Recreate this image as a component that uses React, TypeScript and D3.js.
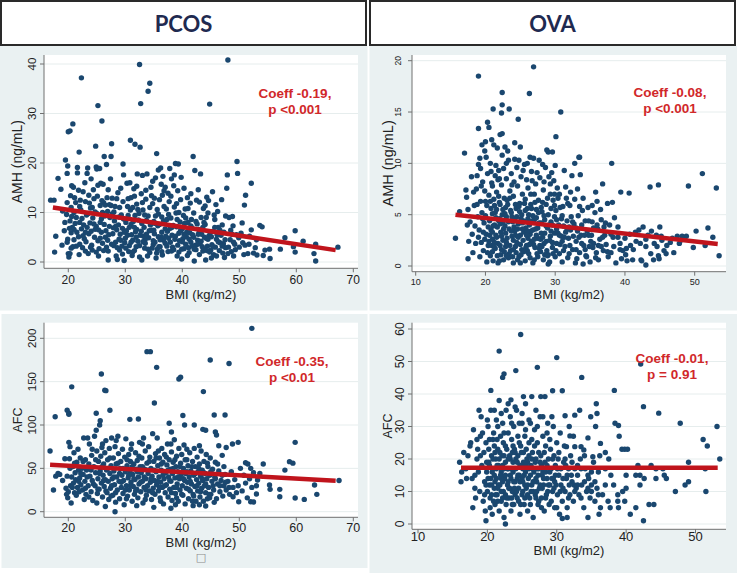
import React from 'react';
import * as d3 from 'd3';

type Pt = [number, number];

// ---------- DATA ----------
const panelTitles = ['PCOS', 'OVA'];
const bmiTicksPcos = [20, 30, 40, 50, 60, 70];
const bmiTicksOva = [10, 20, 30, 40, 50];
const amhTicksPcos = [0, 10, 20, 30, 40];
const amhTicksOva = [0, 5, 10, 15, 20];
const afcTicksPcos = [0, 50, 100, 150, 200];
const afcTicksOva = [0, 10, 20, 30, 40, 50, 60];

const coeffPcosAmh = ['Coeff -0.19,', 'p <0.001'];
const coeffOvaAmh = ['Coeff -0.08,', 'p <0.001'];
const coeffPcosAfc = ['Coeff -0.35,', 'p <0.01'];
const coeffOvaAfc = ['Coeff -0.01,', 'p = 0.91'];

const pcosAmhFit: Pt[] = [[17.3, 11.0], [66.9, 2.4]];
const ovaAmhFit: Pt[] = [[15.7, 5.0], [53.3, 2.15]];
const pcosAfcFit: Pt[] = [[16.8, 54.2], [66.9, 35.6]];
const ovaAfcFit: Pt[] = [[16.2, 17.3], [53.2, 17.3]];

const pcosAmh: Pt[] = [
[16.9,12.5],[17.5,12.5],[17.6,2.0],[17.8,5.2],[18.2,16.9],[18.7,14.7],[19.3,6.3],[19.5,20.6],[19.8,17.9],[19.9,19.4],[19.8,12.0],[19.7,9.6],[19.9,4.6],[19.8,4.0],[20.0,1.7],[20.1,1.0],[20.3,1.7],[20.0,26.3],[20.3,26.5],[20.8,27.9],[20.4,13.4],[20.6,15.4],[20.9,15.1],[20.5,11.0],[20.3,8.3],[20.7,7.0],[20.5,5.9],[21.0,4.5],[20.8,3.1],[21.1,13.0],[21.3,12.0],[21.4,9.0],[21.2,7.8],[21.5,6.0],[21.6,19.1],[21.6,18.0],[21.9,22.2],[22.3,37.2],[21.8,14.5],[22.0,11.2],[22.2,10.5],[22.4,8.8],[22.3,6.7],[22.0,3.6],[22.5,2.9],[22.8,4.7],[22.9,16.0],[23.0,12.2],[23.2,9.5],[23.3,7.0],[23.6,5.7],[23.5,1.7],[23.4,19.0],[23.3,17.9],[23.7,11.9],[23.9,10.9],[24.0,6.2],[24.1,3.4],[24.4,14.6],[24.3,8.9],[24.6,5.0],[24.5,12.8],[24.8,23.4],[24.9,19.2],[25.0,18.8],[25.2,31.6],[25.1,13.3],[25.0,9.8],[24.9,7.2],[25.2,4.3],[25.3,1.2],[25.4,2.7],[25.5,18.9],[25.7,15.9],[25.9,28.5],[25.6,11.4],[25.8,8.7],[25.8,6.0],[26.1,15.7],[26.2,12.0],[26.0,3.8],[26.3,21.3],[26.4,9.3],[26.5,5.0],[26.7,19.7],[26.8,13.0],[26.9,10.2],[27.0,0.4],[27.0,2.2],[27.2,7.2],[27.4,16.8],[27.5,21.3],[27.6,23.9],[27.7,12.9],[27.7,9.7],[27.8,5.7],[28.0,3.3],[28.1,8.3],[28.2,11.2],[28.4,1.2],[28.5,6.5],[28.6,0.5],[28.7,14.0],[28.9,4.6],[29.0,2.4],[29.3,9.5],[29.5,6.8],[29.6,19.8],[29.7,17.6],[29.6,12.2],[29.8,0.3],[29.9,3.9],[30.1,8.0],[30.3,15.9],[30.4,5.4],[30.6,2.1],[30.9,24.6],[30.8,16.0],[30.9,10.5],[31.0,7.6],[31.2,1.3],[31.3,4.4],[31.5,14.8],[31.7,23.8],[31.6,13.3],[31.7,9.4],[31.8,6.1],[31.9,3.1],[32.0,11.7],[32.1,17.8],[32.3,8.5],[32.5,1.0],[32.6,23.2],[32.5,39.9],[32.7,32.0],[32.6,5.4],[32.8,13.8],[32.9,0.4],[33.0,17.5],[33.1,10.5],[33.3,7.0],[33.4,2.8],[33.5,4.6],[33.6,12.7],[33.8,17.8],[34.0,34.5],[34.3,36.1],[34.0,9.3],[34.2,6.3],[34.3,1.9],[34.5,15.1],[34.6,13.4],[34.8,11.8],[34.9,3.5],[35.0,8.2],[35.1,5.7],[35.3,17.0],[35.5,21.9],[35.4,0.8],[35.6,10.6],[35.7,7.3],[35.8,18.6],[35.9,3.1],[36.0,12.6],[36.2,19.0],[36.3,5.0],[36.4,9.1],[36.5,1.4],[36.6,17.3],[36.8,14.4],[36.9,7.9],[37.0,3.8],[37.2,10.7],[37.4,6.2],[37.5,2.1],[37.7,12.2],[37.8,18.9],[38.0,8.9],[38.1,16.8],[38.2,5.4],[38.3,3.0],[38.5,15.4],[38.6,11.1],[38.8,19.9],[39.0,7.1],[39.1,1.2],[39.2,14.4],[39.3,19.8],[39.4,10.0],[39.5,4.3],[39.7,12.6],[39.8,17.1],[39.9,0.6],[40.0,6.7],[40.2,9.4],[40.3,2.7],[40.5,10.7],[40.7,5.1],[40.9,13.0],[41.0,8.0],[41.2,1.9],[41.4,11.9],[41.5,4.0],[41.7,6.9],[41.9,21.3],[42.0,9.9],[42.2,18.5],[42.1,0.2],[42.3,3.4],[42.5,12.5],[42.6,7.7],[42.8,5.6],[43.0,1.5],[43.2,17.8],[43.3,9.0],[43.5,3.1],[43.7,10.8],[43.9,5.0],[44.0,7.6],[44.1,0.4],[44.3,2.3],[44.5,9.9],[44.6,12.4],[44.8,31.9],[44.9,6.0],[45.1,0.8],[45.3,14.2],[45.2,3.5],[45.5,1.5],[45.7,8.6],[45.9,11.6],[46.0,4.6],[46.3,7.0],[46.5,2.3],[46.8,5.4],[47.0,7.5],[47.2,3.7],[47.4,0.9],[47.6,2.9],[47.8,14.9],[47.9,17.6],[48.0,40.8],[48.2,9.0],[48.4,4.5],[48.6,2.1],[48.8,9.2],[49.0,1.2],[49.2,3.6],[49.6,20.3],[49.7,17.9],[49.5,5.5],[49.9,4.9],[50.3,5.8],[50.6,3.9],[50.9,11.5],[51.1,13.5],[51.0,3.4],[51.5,1.7],[51.7,3.6],[52.1,15.9],[52.1,6.5],[52.5,1.8],[53.1,1.4],[53.6,7.4],[54.0,7.1],[54.2,1.3],[54.5,2.4],[55.3,2.6],[55.4,0.7],[57.2,2.6],[58.0,4.9],[59.5,3.1],[59.8,6.3],[59.8,2.0],[61.2,4.2],[63.1,1.7],[63.4,3.6],[63.4,0.2],[67.3,3.0],
[22.6,5.3],[23.1,4.1],[23.8,7.9],[24.2,2.4],[24.7,6.6],[25.6,4.8],[26.3,7.6],[26.7,3.0],[27.1,5.5],[27.3,9.0],[27.9,6.9],[28.3,4.0],[28.8,7.5],[29.1,5.6],[29.4,3.2],[29.7,8.7],[30.0,4.8],[30.2,6.3],[30.5,9.4],[30.7,3.3],[31.1,5.5],[31.4,8.2],[31.6,2.3],[32.0,6.6],[32.2,4.2],[32.4,9.8],[32.9,7.8],[33.2,5.2],[33.5,3.8],[33.7,8.4],[33.9,1.2],[34.1,4.9],[34.4,7.5],[34.7,2.8],[35.0,6.4],[35.2,4.0],[35.3,9.3],[35.6,2.6],[35.8,5.1],[36.0,7.6],[36.1,3.1],[36.4,6.0],[36.7,4.4],[36.8,11.2],[37.1,5.2],[37.3,8.6],[37.6,4.8],[37.9,6.8],[38.1,2.2],[38.4,7.4],[38.7,4.6],[38.9,9.9],[39.2,3.4],[39.4,5.8],[39.6,8.1],[39.9,2.6],[40.1,4.7],[40.4,7.8],[40.6,3.6],[40.8,6.0],[41.1,2.9],[41.3,5.9],[41.6,8.6],[41.8,3.2],[42.0,5.0],[42.4,2.5],[42.7,4.4],[42.9,6.6],[43.1,3.9],[43.4,5.6],[43.6,2.2],[43.8,8.0],[44.2,4.8],[44.4,3.2],[44.7,5.3],[45.0,2.4],[45.4,6.2],[45.8,3.0],[46.1,5.5],[46.6,3.9],[47.1,1.8],[47.3,6.0],[48.1,3.0],[48.7,5.6],[49.3,2.5],[50.0,3.0],[45.6,9.5],[46.2,10.2],[44.0,11.3],[43.0,12.1],[41.0,10.8],[38.0,13.3],[37.0,15.1],[35.1,12.9],[33.6,14.5],[31.0,13.0],[29.0,11.0],[27.5,11.4],[26.0,10.0],[23.6,13.5],[22.0,8.0],[21.0,10.0],[20.2,6.8],[19.0,10.3],
[20.6,9.2],[21.0,6.6],[21.4,3.2],[21.8,5.1],[22.1,12.5],[22.7,7.5],[23.0,2.2],[23.5,9.8],[23.9,3.0],[24.2,11.0],[24.5,7.7],[24.9,2.0],[25.3,6.5],[25.6,8.0],[25.9,12.4],[26.2,2.3],[26.6,6.3],[26.9,4.4],[27.2,11.6],[27.6,3.6],[28.0,10.1],[28.3,7.2],[28.6,2.9],[28.9,9.1],[29.2,4.4],[29.5,1.6],[29.8,6.0],[30.1,2.8],[30.4,11.2],[30.7,7.0],[31.0,4.0],[31.3,2.0],[31.6,7.0],[31.9,5.0],[32.2,10.6],[32.5,3.3],[32.8,6.2],[33.1,4.1],[33.4,9.5],[33.7,5.6],[34.0,2.6],[34.3,11.0],[34.6,6.4],[34.9,4.3],[35.2,7.8],[35.5,1.8],[35.8,9.7],[36.1,4.5],[36.4,2.1],[36.7,8.3],[37.0,6.7],[37.3,3.2],[37.6,9.6],[37.9,4.0],[38.2,7.0],[38.5,2.5],[38.8,5.2],[39.1,8.6],[39.4,2.0],[39.7,6.3],[40.0,4.1],[40.3,5.6],[40.6,8.9],[40.9,1.3],[41.2,4.6],[41.5,7.3],[41.8,5.5],[42.1,2.6],[42.4,8.2],[42.7,3.6],[43.0,6.2],[43.3,4.2],[43.6,7.0],[43.9,2.6],[44.2,9.0],[44.5,4.6],[44.8,2.0],[45.1,5.1],[45.4,3.1],[45.7,7.0],[46.0,1.2],[46.3,4.1],[46.6,6.4],[47.0,3.2],[47.5,4.5],[48.0,1.7],[48.5,6.4],[49.0,4.0],[34.8,16.3],[36.3,15.7],[38.6,17.6],[40.3,14.9],[42.8,14.6],[30.5,12.8],[27.0,14.6],[25.2,15.5],[24.0,16.8],[22.6,14.2],[39.0,11.8],[36.5,13.5],[33.0,12.0],[31.3,11.0],[28.5,12.8],[26.5,11.5],[24.7,10.1],[23.0,6.0],[21.9,1.5],[20.5,2.8],[19.4,8.0],[18.9,3.4],[29.2,14.9],[32.0,15.3],[37.5,13.9],[41.5,13.8],[44.3,13.1],[46.9,12.6],[47.6,9.3],[48.9,7.3],[50.5,7.9],[51.8,5.2],[53.0,4.5],[52.8,2.9],[50.8,1.5]
];

const ovaAmh: Pt[] = [
[15.7,2.7],[16.3,5.3],[17.0,11.0],[17.2,7.4],[17.4,4.0],[17.5,0.7],[17.6,2.4],[19.0,18.5],[26.9,19.4],[22.4,16.9],[26.3,16.8],[30.8,15.0],[22.4,15.7],[21.1,15.3],[23.4,15.3],[22.3,14.9],[24.7,14.3],[19.0,13.4],[20.3,14.0],[30.1,12.6],[29.0,11.1],[29.6,11.1],[33.4,10.6],[32.8,10.0],[36.8,8.0],[38.1,10.0],[38.2,6.2],[39.4,7.2],[40.6,7.1],[43.6,7.7],[44.8,7.9],[49.1,7.8],[51.1,9.0],[53.1,7.6],[53.5,1.0],[52.6,2.8],[51.9,3.7],[51.5,2.0],[50.2,3.4],[49.8,1.8],[48.8,2.9],[48.2,2.9],[47.0,1.3],[44.9,0.7],[44.1,0.6],[43.0,0.1],[42.3,0.6],[41.1,0.6],[40.1,1.1],[39.3,1.6],
[17.3,6.7],[17.5,5.5],[17.8,4.3],[18.0,8.7],[18.1,3.1],[18.2,1.3],[18.4,5.9],[18.6,2.2],[18.7,7.5],[18.8,8.8],[18.9,4.8],[19.0,9.9],[19.1,3.5],[19.2,0.9],[19.3,6.3],[19.3,9.5],[19.4,2.3],[19.5,5.2],[19.6,8.2],[19.7,1.5],[19.8,4.2],[19.9,11.2],[19.9,7.3],[20.0,12.1],[20.1,3.1],[20.2,0.4],[20.2,5.9],[20.3,9.0],[20.4,2.0],[20.5,13.5],[20.5,6.9],[20.6,4.4],[20.7,10.0],[20.7,1.0],[20.8,3.5],[20.9,8.1],[20.9,12.3],[21.0,5.1],[21.0,2.6],[21.1,0.5],[21.2,6.5],[21.2,11.8],[21.3,4.0],[21.4,8.8],[21.4,1.7],[21.5,3.0],[21.6,7.2],[21.6,5.5],[21.7,11.5],[21.8,2.2],[21.8,0.3],[21.9,9.3],[22.0,4.6],[22.0,6.2],[22.1,12.8],[22.2,3.3],[22.2,1.1],[22.3,7.9],[22.4,5.0],[22.4,12.9],[22.5,2.5],[22.6,9.5],[22.6,0.6],[22.7,6.6],[22.8,11.6],[22.8,3.9],[22.9,1.9],[23.0,8.5],[23.0,4.8],[23.1,2.7],[23.2,6.0],[23.3,10.3],[23.3,0.8],[23.4,3.6],[23.5,7.3],[23.6,5.4],[23.6,1.5],[23.7,9.0],[23.8,2.9],[23.9,4.3],[24.0,6.8],[24.0,0.3],[24.1,8.2],[24.2,3.4],[24.3,1.9],[24.4,5.6],[24.5,9.6],[24.5,2.3],[24.6,7.8],[24.7,4.1],[24.8,10.3],[24.8,0.9],[24.9,6.1],[25.0,3.0],[25.1,8.7],[25.2,1.6],[25.2,5.0],[25.3,7.0],[25.4,2.5],[25.5,4.4],[25.6,9.9],[25.7,0.5],[25.7,6.5],[25.8,3.7],[25.9,2.0],[26.0,5.6],[26.0,10.0],[26.1,7.6],[26.2,1.2],[26.3,4.0],[26.4,10.6],[26.4,3.1],[26.5,6.0],[26.6,2.4],[26.7,8.3],[26.8,0.3],[26.8,4.9],[26.9,10.5],[27.0,7.0],[27.1,1.8],[27.2,3.6],[27.3,5.5],[27.4,9.1],[27.5,2.7],[27.5,0.9],[27.6,6.4],[27.7,4.2],[27.8,8.6],[27.9,1.4],[28.0,3.2],[28.1,5.3],[28.2,9.9],[28.3,0.6],[28.3,7.4],[28.4,2.2],[28.5,4.5],[28.6,9.6],[28.7,6.0],[28.8,1.5],[28.9,3.7],[29.0,5.0],[29.1,8.7],[29.2,0.4],[29.3,2.9],[29.3,7.0],[29.4,4.3],[29.5,9.1],[29.6,1.8],[29.7,6.4],[29.8,8.3],[29.9,3.2],[30.0,0.9],[30.1,5.4],[30.2,2.2],[30.3,7.6],[30.5,4.0],[30.6,1.2],[30.7,5.7],[30.9,2.9],[31.0,0.4],[31.1,5.8],[31.2,3.9],[31.4,1.9],[31.5,7.7],[31.7,4.4],[31.8,0.8],[31.9,2.7],[32.1,5.9],[32.2,3.5],[32.4,8.8],[32.5,1.6],[32.7,4.1],[32.8,6.5],[33.0,2.4],[33.1,0.7],[33.2,7.5],[33.3,4.9],[33.5,1.3],[33.6,8.9],[33.7,3.0],[33.9,5.4],[34.0,0.2],[34.1,2.0],[34.3,4.4],[34.4,1.0],[34.6,3.4],[34.7,5.7],[34.9,1.9],[35.0,0.4],[35.2,3.0],[35.3,4.3],[35.5,2.2],[35.7,5.2],[35.8,7.2],[35.9,1.3],[36.1,3.6],[36.2,0.6],[36.4,2.6],[36.6,4.5],[36.9,1.5],[37.1,3.0],[37.3,2.1],[37.6,0.9],[37.8,4.0],[38.0,1.3],[38.3,2.8],[38.5,4.7],[38.7,0.3],[39.0,3.8],[39.3,2.2],[39.7,1.5],[40.0,2.7],[40.3,0.5],[40.7,3.1],[41.2,1.6],[41.6,2.4],[42.0,3.5],[42.4,0.5],[42.6,3.8],[43.0,1.9],[43.3,3.0],[43.7,1.2],[44.2,2.2],[44.5,3.0],[44.8,1.0],[45.0,3.8],[45.3,2.5],[45.6,1.5],[46.0,2.0],[46.5,2.3],[47.5,2.9],[48.0,2.5],
[20.4,3.8],[20.9,2.0],[21.3,5.9],[21.7,3.8],[22.1,2.0],[22.5,4.2],[22.9,5.7],[23.4,1.2],[23.8,4.8],[24.3,3.0],[24.6,0.6],[25.1,4.6],[25.5,3.3],[26.0,1.5],[26.5,3.4],[27.0,4.5],[27.4,1.2],[27.9,2.6],[28.5,3.2],[29.0,1.1],[29.6,4.0],[30.4,3.2],[21.0,7.8],[22.0,8.5],[23.0,10.0],[24.2,10.4],[25.0,11.6],[21.5,9.8],[20.0,6.3],[19.6,4.6],[18.8,6.0],[19.2,10.5],[26.6,9.2],[27.7,10.3],[28.8,11.3],[30.0,9.8],[31.3,9.3],[33.5,10.6],
[19.9,2.6],[20.3,1.3],[20.6,3.0],[20.8,5.6],[21.1,3.9],[21.3,2.3],[21.5,4.7],[21.7,1.0],[21.9,6.8],[22.1,4.1],[22.3,2.9],[22.5,5.5],[22.7,1.4],[22.9,3.2],[23.1,6.4],[23.2,4.4],[23.5,2.0],[23.7,5.2],[23.9,0.9],[24.1,3.8],[24.3,6.0],[24.5,4.8],[24.7,2.8],[24.9,5.3],[25.1,1.1],[25.3,3.6],[25.6,6.1],[25.8,1.8],[26.0,3.4],[26.2,5.0],[26.4,0.8],[26.7,4.4],[26.9,2.1],[27.1,6.2],[27.3,3.0],[27.6,5.2],[27.8,2.0],[28.0,4.2],[28.2,6.2],[28.5,1.1],[28.7,3.9],[28.9,6.6],[29.2,2.5],[29.4,5.6],[29.7,1.2],[29.9,4.8],[30.2,3.6],[30.4,6.6],[30.7,2.1],[30.9,4.6],[31.2,1.5],[31.5,3.3],[31.8,6.1],[32.0,1.2],[32.3,4.8],[32.6,2.9],[32.9,0.3],[33.2,3.4],[33.5,5.8],[33.8,2.2],[34.2,3.0],[34.5,0.9],[34.8,4.4],[35.1,2.4],[35.5,3.7],[35.8,0.8],[36.2,2.0],[36.5,5.5],[36.8,2.8],[37.2,4.2],[37.5,1.4],[38.0,3.1],[38.4,1.9],[39.0,2.8],[39.5,0.7],[40.2,1.7],[40.8,2.0],[41.5,3.3],[42.2,2.2],[43.0,2.6],[43.8,3.4],[44.6,1.9],[45.2,2.9],[45.9,1.2],[46.8,2.7],[47.8,2.2],[18.5,3.9],[18.3,7.2],[19.0,2.8],[19.4,7.8],[19.5,11.8],[20.1,10.6],[20.8,9.2],[21.8,8.4],[22.4,10.8],[23.2,11.2],[23.8,7.9],[24.2,12.0],[25.4,9.3],[25.9,8.4],[26.5,7.0],[27.2,8.0],[28.4,8.2],[29.3,8.0],[29.9,7.0],[30.6,7.0],[31.6,6.6],[32.2,7.2],[34.0,6.6],[35.3,5.9],[36.0,6.3],[37.5,6.1],[21.0,1.4],[22.0,0.5],[23.0,1.0],[24.0,1.6],[25.0,0.3],[26.1,2.7],[27.0,0.6],[28.1,1.9],[29.0,0.2],[30.1,1.5],[31.0,2.4],[32.0,3.8],[33.0,1.6],
[19.7,3.3],[20.0,4.9],[20.5,2.4],[20.7,6.3],[21.0,3.3],[21.2,1.9],[21.4,5.2],[21.6,2.8],[21.9,4.4],[22.1,6.0],[22.3,1.6],[22.6,3.6],[22.8,5.1],[23.0,2.3],[23.3,4.3],[23.5,6.6],[23.7,3.4],[24.0,2.5],[24.2,4.6],[24.4,1.3],[24.6,3.6],[24.8,5.8],[25.0,2.1],[25.3,4.2],[25.5,1.4],[25.7,5.4],[25.9,3.0],[26.1,4.6],[26.3,2.1],[26.6,5.6],[26.8,3.5],[27.0,2.6],[27.3,4.7],[27.5,3.7],[27.7,1.7],[28.0,5.7],[28.2,2.8],[28.4,4.9],[28.7,2.4],[28.9,1.0],[29.1,4.0],[29.4,3.4],[29.6,2.3],[29.9,5.9],[30.2,4.5],[30.6,3.0],[31.0,4.9],[31.3,2.8],[31.7,3.6],[32.1,2.0],[32.5,4.3],[33.0,3.7],[33.4,2.8],[33.8,4.0],[34.3,1.6],[34.8,3.0],[35.4,1.8],[36.0,4.0],[36.6,1.9],[37.0,3.8]
];

const pcosAfc: Pt[] = [
[52.2,211.5],[33.8,184.6],[34.4,184.6],[44.9,175],[48.2,171],[35.5,166.5],[39.4,153],[39.7,155],[25.8,158.8],[20.6,144],[26.4,140],[26.6,139.6],[43.7,138.5],[35.1,125.4],[27.3,117],[19.8,117],[20.1,113.5],[20.1,112.3],[17.7,109.6],[45.6,111.5],[40.1,111],[30.8,106.5],[32.3,107],[24.9,113.5],[25.6,105],[40.4,100],[42.1,100],[37.7,102],[38.1,92],[43.6,95],[44.1,94],[45.8,92],[46.0,88.5],[47.3,52],[47.5,111.5],[59.8,80],[49.8,80],[48.8,78],[46.4,76],[47.7,74],[16.8,70],[58.0,48],[58.8,57.7],[59.4,56],[54.2,55],[51.1,56.5],[63.2,30.8],[63.6,20],[61.4,14.2],[59.8,15.8],[57.1,25.8],[57.1,17.3],[55.3,30.8],[55.4,25.8],[67.5,36],[52.0,11.5],[52.5,11.2],[49.9,11.5],[53.0,20.4],[53.6,44],[53.2,36.5],[28.2,0],[26.5,6],[38.0,4],[41.9,7],[44.1,6.5],[45.6,10.8],[48.9,17.3],
[17.4,25],[17.8,41],[18.2,44],[18.5,43],[19.0,36],[19.4,61],[19.6,27],[19.7,20],[19.8,41],[19.9,16],[20.0,23],[20.1,80],[20.2,61],[20.3,75],[20.4,30],[20.5,10],[20.6,40],[20.8,52],[20.9,33],[21.0,68],[21.1,22],[21.2,45],[21.3,37],[21.5,57],[21.6,28],[21.7,72],[21.8,48],[21.9,23],[22.0,39],[22.1,62],[22.2,31],[22.4,50],[22.5,25],[22.6,43],[22.7,85],[22.9,35],[23.0,60],[23.1,20],[23.2,48],[23.4,85],[23.5,30],[23.6,55],[23.7,78],[23.8,41],[24.0,23],[24.1,65],[24.2,36],[24.3,13],[24.5,52],[24.6,87],[24.7,30],[24.8,45],[24.9,94],[25.0,70],[25.1,21],[25.2,38],[25.3,58],[25.4,26],[25.5,100],[25.6,47],[25.7,64],[25.8,33],[25.9,74],[26.0,17],[26.1,42],[26.2,55],[26.3,29],[26.4,68],[26.5,37],[26.6,82],[26.7,48],[26.8,22],[26.9,60],[27.0,35],[27.1,14],[27.2,73],[27.3,44],[27.4,27],[27.5,53],[27.6,85],[27.7,38],[27.8,19],[27.9,62],[28.0,47],[28.1,31],[28.2,75],[28.3,11],[28.4,55],[28.5,40],[28.6,25],[28.7,87],[28.8,67],[28.9,35],[29.0,15],[29.1,50],[29.2,58],[29.3,28],[29.4,42],[29.5,72],[29.6,21],[29.7,36],[29.8,8],[29.9,63],[30.0,46],[30.1,84],[30.2,30],[30.3,53],[30.4,18],[30.5,39],[30.6,66],[30.7,25],[30.8,47],[30.9,58],[31.0,34],[31.1,78],[31.2,12],[31.3,43],[31.4,29],[31.5,55],[31.6,20],[31.7,37],[31.8,68],[31.9,49],[32.0,26],[32.1,59],[32.2,16],[32.3,40],[32.4,32],[32.5,80],[32.6,52],[32.7,23],[32.8,45],[32.9,62],[33.0,35],[33.1,10],[33.2,85],[33.3,28],[33.4,49],[33.5,70],[33.6,38],[33.7,19],[33.8,56],[33.9,30],[34.0,44],[34.1,75],[34.2,24],[34.3,63],[34.4,34],[34.5,50],[34.6,14],[34.7,41],[34.8,90],[34.9,27],[35.0,58],[35.1,36],[35.2,20],[35.3,67],[35.4,46],[35.5,31],[35.6,85],[35.7,53],[35.8,24],[35.9,40],[36.0,62],[36.1,16],[36.2,34],[36.3,48],[36.4,73],[36.5,28],[36.6,57],[36.7,9],[36.8,38],[36.9,66],[37.0,22],[37.1,45],[37.2,31],[37.3,54],[37.4,78],[37.5,17],[37.6,40],[37.7,60],[37.8,26],[37.9,49],[38.0,35],[38.1,69],[38.2,13],[38.3,44],[38.4,57],[38.5,28],[38.6,83],[38.7,39],[38.8,21],[38.9,52],[39.0,64],[39.1,32],[39.2,46],[39.3,12],[39.4,73],[39.5,38],[39.6,25],[39.7,56],[39.8,43],[39.9,66],[40.0,30],[40.1,19],[40.2,50],[40.3,77],[40.4,36],[40.5,9],[40.6,44],[40.7,27],[40.8,60],[40.9,34],[41.0,53],[41.1,15],[41.2,40],[41.3,68],[41.4,24],[41.5,47],[41.6,32],[41.8,58],[41.9,20],[42.0,42],[42.1,73],[42.2,29],[42.3,52],[42.4,12],[42.5,37],[42.6,63],[42.7,24],[42.8,46],[42.9,33],[43.0,55],[43.1,17],[43.2,41],[43.3,70],[43.4,27],[43.5,48],[43.6,36],[43.7,12],[43.8,58],[43.9,30],[44.0,44],[44.1,22],[44.2,66],[44.3,38],[44.4,15],[44.5,52],[44.6,28],[44.8,42],[44.9,62],[45.0,20],[45.2,35],[45.3,49],[45.5,25],[45.7,40],[45.8,57],[46.0,15],[46.2,32],[46.4,47],[46.6,23],[46.8,36],[47.0,65],[47.1,18],[47.3,30],[47.5,43],[47.7,25],[48.0,35],[48.3,20],[48.6,46],[48.9,28],[49.2,37],[49.5,22],[49.8,30],[50.2,50],[50.5,24],[50.8,42],[51.1,33],[51.4,16],[51.8,38],[52.2,28],[52.5,45],[53.0,30],[52.0,50],[51.5,55],
[20.3,50],[20.7,28],[21.1,56],[21.4,19],[21.8,35],[22.2,44],[22.6,58],[23.0,27],[23.3,40],[23.6,17],[24.0,48],[24.4,32],[24.8,60],[25.2,26],[25.5,44],[25.9,52],[26.2,36],[26.6,24],[27.0,50],[27.3,62],[27.6,30],[28.0,40],[28.3,22],[28.7,56],[29.0,44],[29.3,34],[29.6,50],[30.0,25],[30.3,60],[30.6,42],[30.9,30],[31.2,52],[31.5,38],[31.8,24],[32.1,46],[32.4,64],[32.7,34],[33.0,52],[33.3,40],[33.6,25],[33.9,48],[34.2,58],[34.5,38],[34.8,22],[35.1,48],[35.4,62],[35.7,35],[36.0,28],[36.3,55],[36.6,42],[36.9,30],[37.2,63],[37.5,48],[37.8,36],[38.1,22],[38.4,50],[38.7,60],[39.0,28],[39.3,40],[39.6,52],[39.9,20],[40.2,38],[40.5,60],[40.8,46],[41.1,26],[41.4,35],[41.7,52],[42.0,18],[42.3,44],[42.6,30],[42.9,50],[43.2,23],[43.5,38],[43.8,45],[44.1,32],[44.4,56],[44.7,20],[45.0,46],[45.4,30],[45.8,38],[46.2,55],[46.6,30],[47.0,42],[47.6,34],[48.2,28],[24.2,72],[26.0,78],[28.4,82],[31.0,72],[33.0,78],[35.8,70],[38.0,78],[40.8,72],[43.0,76],[30.2,15],[33.5,14],[36.2,12],[39.0,16],[41.8,12],[44.8,16],[27.5,18],[22.8,14],[25.0,10],[35.0,5],[43.0,8],[38.8,8],[32.0,7]
];

const ovaAfc: Pt[] = [
[24.8,58.3],[21.7,53.2],[30.0,51.2],[27.2,48.2],[42.1,49.2],[24.1,47.2],[22.4,46.2],[22.2,45.1],[33.6,45.1],[38.3,41.1],[20.5,41.1],[29.4,41],[30.8,41],[27.7,39.2],[28.3,39.2],[26.4,39.2],[25.2,39.2],[23.4,38.2],[42.5,36.1],[44.7,34.1],[47.8,31],[53.1,30],[51.1,26],[51.7,24],[53.5,20],[49.0,19],[51.4,17],[49.0,13],[48.5,12],[47.1,10],[51.5,10],[42.5,1],[19.8,1],[22.6,0],[31.5,2],[30.8,1.7],[34.5,2],[36.1,3],[40.6,3],[38.9,5],[37.7,5],[41.4,5],[43.3,6],[44.0,6],[38.8,7],[39.8,7],[38.8,9],[40.0,11],[39.5,10],[42.0,12],
[39.0,27],[38.9,30.3],[38.4,31],[39.4,23],[39.8,23],[40.2,23],[40.0,15],[41.4,15],[41.7,18],[43.6,18],[44.3,17],[45.3,17],[45.5,15],[45.8,14],[42.6,14],[42.0,15],[44.3,14],[37.5,20],[37.0,22],[36.2,21],[35.6,30],[35.8,34],[35.7,37],[34.9,33],[33.3,35],[32.6,33.5],[31.2,33.3],[31.8,30],[31.9,27.1],[32.4,27],[34.5,26.5],[33.5,23.8],[33.9,22.8],[32.6,23.8],[31.4,23.8],[36.3,24.8],[35.2,20.7],
[16.0,19],[16.3,16],[16.2,13],[16.9,17],[17.2,21],[17.6,25],[17.5,24],[17.8,14],[17.9,5],[18.0,29],[18.2,11],[18.3,8],[18.5,20],[18.6,23],[18.7,16],[18.8,35],[18.9,10],[19.0,27],[19.1,33],[19.2,18],[19.3,28],[19.4,7],[19.5,22],[19.6,13],[19.7,4],[19.8,25],[19.9,16],[20.0,10],[20.1,30],[20.2,19],[20.3,26],[20.4,8],[20.5,14],[20.5,35],[20.6,21],[20.7,3],[20.8,17],[20.9,28],[21.0,11],[21.0,24],[21.1,6],[21.2,20],[21.3,32],[21.3,14],[21.4,9],[21.5,23],[21.6,18],[21.7,38],[21.7,4],[21.8,12],[21.9,27],[22.0,16],[22.0,7],[22.1,21],[22.2,31],[22.3,10],[22.3,25],[22.4,2],[22.5,14],[22.6,19],[22.7,35],[22.7,6],[22.8,23],[22.9,12],[23.0,28],[23.0,17],[23.1,8],[23.2,21],[23.3,33],[23.4,4],[23.4,14],[23.5,26],[23.6,10],[23.7,19],[23.8,30],[23.8,6],[23.9,23],[24.0,13],[24.1,17],[24.2,35],[24.3,8],[24.4,27],[24.4,21],[24.5,11],[24.6,15],[24.7,3],[24.8,24],[24.9,18],[25.0,31],[25.0,9],[25.1,13],[25.2,22],[25.3,6],[25.4,27],[25.5,16],[25.5,37],[25.6,11],[25.7,20],[25.8,4],[25.9,14],[26.0,25],[26.1,8],[26.2,31],[26.3,18],[26.4,12],[26.5,22],[26.6,2],[26.7,16],[26.8,29],[26.9,9],[27.0,20],[27.1,13],[27.2,25],[27.3,6],[27.4,17],[27.5,11],[27.6,33],[27.7,21],[27.8,8],[27.9,15],[28.0,27],[28.1,12],[28.2,4],[28.3,19],[28.4,24],[28.5,9],[28.6,14],[28.7,31],[28.8,20],[28.9,6],[29.0,12],[29.1,23],[29.2,17],[29.3,33],[29.4,10],[29.5,14],[29.6,21],[29.7,5],[29.8,18],[29.9,12],[30.0,25],[30.1,9],[30.3,15],[30.5,28],[30.6,12],[30.8,7],[31.0,19],[31.1,24],[31.2,10],[31.4,14],[31.5,5],[31.7,17],[31.9,9],[32.0,21],[32.2,13],[32.4,7],[32.6,17],[32.8,11],[33.0,15],[33.2,9],[33.4,20],[33.6,12],[33.9,5],[34.1,17],[34.3,10],[34.6,14],[34.8,8],[35.0,12],[35.3,19],[35.5,7],[35.8,11],[36.0,16],[36.3,5],[36.6,9],[37.0,12],[37.4,7],[37.8,15],
[20.3,12],[20.7,16],[21.1,22],[21.5,7],[21.9,15],[22.2,18],[22.6,9],[23.0,13],[23.3,20],[23.7,16],[24.0,9],[24.3,19],[24.7,13],[25.1,17],[25.4,8],[25.8,19],[26.2,15],[26.6,10],[27.0,14],[27.4,7],[27.8,18],[20.9,7],[21.4,26],[22.4,28],[23.6,22],[24.6,31],[26.4,26],[27.2,30],[28.6,28],[29.5,30],[30.2,20],[30.4,3],
[19.6,9],[19.9,19],[20.2,23],[20.4,5],[20.6,12],[20.8,26],[21.0,15],[21.2,9],[21.4,18],[21.6,12],[21.8,22],[22.0,10],[22.2,13],[22.4,17],[22.6,24],[22.8,8],[23.0,20],[23.2,11],[23.4,17],[23.6,6],[23.8,13],[24.0,22],[24.2,10],[24.4,15],[24.6,25],[24.8,6],[25.0,14],[25.2,19],[25.4,12],[25.6,23],[25.8,9],[26.0,17],[26.2,6],[26.4,20],[26.6,13],[26.8,24],[27.0,8],[27.2,17],[27.4,22],[27.6,12],[27.8,5],[28.0,16],[28.2,22],[28.4,8],[28.6,18],[28.8,12],[29.0,26],[29.2,7],[29.4,20],[29.6,11],[29.8,15],[30.0,5],[30.3,22],[30.6,17],[30.9,11],[31.2,20],[31.5,15],[31.8,12],[32.2,19],[32.6,10],[33.0,12],[33.5,17],[34.0,13],[34.5,11],[35.0,16],[35.5,13],[36.0,9],[37.0,17],[38.2,12],[20.0,32],[21.0,35],[22.0,34],[23.0,37],[24.0,36],[25.0,34],[26.0,32],[27.0,35],[28.0,33],[21.5,30],[23.5,31],[25.5,29],[19.0,21],[18.5,26],[18.2,15],[17.0,14],[16.6,22],
[19.8,12],[20.1,14],[20.3,18],[20.6,9],[20.8,20],[21.1,13],[21.3,17],[21.5,11],[21.7,20],[22.0,14],[22.2,8],[22.4,21],[22.6,15],[22.9,17],[23.1,11],[23.3,15],[23.5,8],[23.7,24],[23.9,11],[24.1,20],[24.3,14],[24.5,7],[24.7,18],[24.9,22],[25.1,10],[25.3,15],[25.6,18],[25.8,12],[26.0,21],[26.3,10],[26.5,17],[26.7,13],[26.9,19],[27.1,10],[27.3,15],[27.6,19],[27.9,11],[28.1,14],[28.4,16],[28.7,10],[29.0,16],[29.3,14],[29.7,13],[30.1,17],[30.5,10],[30.9,14],[31.3,18],[31.7,8],[32.1,15],[32.5,12],[33.0,18],[33.5,8],[34.0,21],[34.5,15],[35.0,10]
];

// ---------- LAYOUT / STYLE ----------
const REGION_BG = '#eaf1f2';
const DOT = '#1a476f';
const FIT = '#c0141c';
const RED_TXT = '#d1282a';
const AXIS = '#707070';
const GRID = '#e6eded';
const FONT = '"Liberation Sans", Arial, sans-serif';
const DOT_R = 2.7;

interface Panel {
  key: string; data: Pt[]; fit: Pt[]; xTicks: number[]; yTicks: number[];
  yTitle: string; coeff: string[];
  region: { x: number; y: number; w: number; h: number };
  plot: { x0: number; x1: number; y0: number; y1: number };
  xDom: [number, number]; xRange: [number, number];
  yDom: [number, number]; yRange: [number, number];
  xTickFont: number; yTickFont: number; xTickY: number; yTickX: number;
  xTitleY: number; yTitleX: number; yTitleFont: number;
  coeffX: number; coeffY: number;
}

const panels: Panel[] = [
  {
    key: 'tl', data: pcosAmh, fit: pcosAmhFit, xTicks: bmiTicksPcos, yTicks: amhTicksPcos,
    yTitle: 'AMH (ng/mL)', coeff: coeffPcosAmh,
    region: { x: 0, y: 46, w: 367.5, h: 264.5 },
    plot: { x0: 44, x1: 358, y0: 55, y1: 268.3 },
    xDom: [20, 70], xRange: [68.3, 353.3], yDom: [0, 40], yRange: [262, 64],
    xTickFont: 12, yTickFont: 11.5, xTickY: 283.5, yTickX: 31.5, xTitleY: 298.5, yTitleX: 17, yTitleFont: 14,
    coeffX: 295, coeffY: 93,
  },
  {
    key: 'tr', data: ovaAmh, fit: ovaAmhFit, xTicks: bmiTicksOva, yTicks: amhTicksOva,
    yTitle: 'AMH (ng/mL)', coeff: coeffOvaAmh,
    region: { x: 369.5, y: 46, w: 367.5, h: 264.5 },
    plot: { x0: 412, x1: 726, y0: 55, y1: 271.7 },
    xDom: [10, 50], xRange: [415.7, 694.7], yDom: [0, 20], yRange: [266, 60.7],
    xTickFont: 9, yTickFont: 8.5, xTickY: 284.5, yTickX: 398, xTitleY: 298.5, yTitleX: 388, yTitleFont: 14.5,
    coeffX: 670, coeffY: 92,
  },
  {
    key: 'bl', data: pcosAfc, fit: pcosAfcFit, xTicks: bmiTicksPcos, yTicks: afcTicksPcos,
    yTitle: 'AFC', coeff: coeffPcosAfc,
    region: { x: 1.5, y: 314, w: 366, h: 254 },
    plot: { x0: 44, x1: 358, y0: 322.7, y1: 517.3 },
    xDom: [20, 70], xRange: [68.3, 353.3], yDom: [0, 200], yRange: [511.7, 338.3],
    xTickFont: 12.5, yTickFont: 11.5, xTickY: 532, yTickX: 31.5, xTitleY: 547, yTitleX: 18, yTitleFont: 12.5,
    coeffX: 292, coeffY: 361,
  },
  {
    key: 'br', data: ovaAfc, fit: ovaAfcFit, xTicks: bmiTicksOva, yTicks: afcTicksOva,
    yTitle: 'AFC', coeff: coeffOvaAfc,
    region: { x: 369.5, y: 314, w: 367.5, h: 259 },
    plot: { x0: 412, x1: 726, y0: 322.7, y1: 529.3 },
    xDom: [10, 50], xRange: [418, 695.5], yDom: [0, 60], yRange: [524, 329],
    xTickFont: 13, yTickFont: 12, xTickY: 541, yTickX: 399.5, xTitleY: 555, yTitleX: 388, yTitleFont: 12.5,
    coeffX: 672, coeffY: 358.5,
  },
];

function PanelView({ p }: { p: Panel }) {
  const x = d3.scaleLinear().domain(p.xDom).range(p.xRange);
  const y = d3.scaleLinear().domain(p.yDom).range(p.yRange);
  const line = d3.line<Pt>().x(d => x(d[0])).y(d => y(d[1]));
  const yMid = (p.plot.y0 + p.plot.y1) / 2;
  return (
    <g>
      <rect x={p.region.x} y={p.region.y} width={p.region.w} height={p.region.h} fill={REGION_BG} />
      <rect x={p.plot.x0} y={p.plot.y0} width={p.plot.x1 - p.plot.x0} height={p.plot.y1 - p.plot.y0} fill="#fff" />
      {p.yTicks.map(t => (
        <line key={'g' + t} x1={p.plot.x0} x2={p.plot.x1} y1={y(t)} y2={y(t)} stroke={GRID} strokeWidth={1} />
      ))}
      {p.data.map((d, i) => (
        <circle key={i} cx={x(d[0])} cy={y(d[1])} r={DOT_R} fill={DOT} />
      ))}
      <path d={line(p.fit) || ''} stroke={FIT} strokeWidth={4.5} fill="none" />
      <line x1={p.plot.x0} x2={p.plot.x0} y1={p.plot.y0} y2={p.plot.y1} stroke={AXIS} strokeWidth={1} />
      <line x1={p.plot.x0} x2={p.plot.x1} y1={p.plot.y1} y2={p.plot.y1} stroke={AXIS} strokeWidth={1} />
      {p.xTicks.map(t => (
        <g key={'x' + t}>
          <line x1={x(t)} x2={x(t)} y1={p.plot.y1} y2={p.plot.y1 + 4} stroke={AXIS} />
          <text x={x(t)} y={p.xTickY} textAnchor="middle" fontSize={p.xTickFont} fill="#222" fontFamily={FONT}>{t}</text>
        </g>
      ))}
      {p.yTicks.map(t => (
        <g key={'y' + t}>
          <line x1={p.plot.x0 - 4} x2={p.plot.x0} y1={y(t)} y2={y(t)} stroke={AXIS} />
          <text transform={`translate(${p.yTickX},${y(t)}) rotate(-90)`} textAnchor="middle" dy="0.35em"
            fontSize={p.yTickFont} fill="#222" fontFamily={FONT}>{t}</text>
        </g>
      ))}
      <text x={(p.plot.x0 + p.plot.x1) / 2} y={p.xTitleY} textAnchor="middle" fontSize={13} fill="#222" fontFamily={FONT}>BMI (kg/m2)</text>
      <text transform={`translate(${p.yTitleX},${yMid}) rotate(-90)`} textAnchor="middle" dy="0.35em"
        fontSize={p.yTitleFont} fill="#222" fontFamily={FONT}>{p.yTitle}</text>
      {p.coeff.map((c, i) => (
        <text key={c} x={p.coeffX} y={p.coeffY + i * 16} textAnchor="middle" dy="0.35em" fontSize={13.5}
          fontWeight="bold" fill={RED_TXT} fontFamily={FONT}>{c}</text>
      ))}
    </g>
  );
}

export default function App() {
  return (
    <svg width={737} height={573} style={{ position: 'absolute', left: 0, top: 0, display: 'block' }}>
      <rect x={0} y={0} width={737} height={573} fill="#fff" />
      {panelTitles.map((t, i) => (
        <g key={t}>
          <rect x={i === 0 ? 1 : 370} y={1} width={365} height={44} fill="#fff" stroke="#2a2a2a" strokeWidth={2} />
          <text x={i === 0 ? 183.5 : 552.5} y={24} textAnchor="middle" dy="0.35em" fontSize={22} fontWeight="bold"
            fill="#1f2a50" fontFamily="Lato, 'Open Sans', sans-serif">{t}</text>
        </g>
      ))}
      {panels.map(p => <PanelView key={p.key} p={p} />)}
      <text x={201} y={557} textAnchor="middle" dy="0.35em" fontSize={11} fill="#8a8a8a" fontFamily="DejaVu Sans">□</text>
    </svg>
  );
}
